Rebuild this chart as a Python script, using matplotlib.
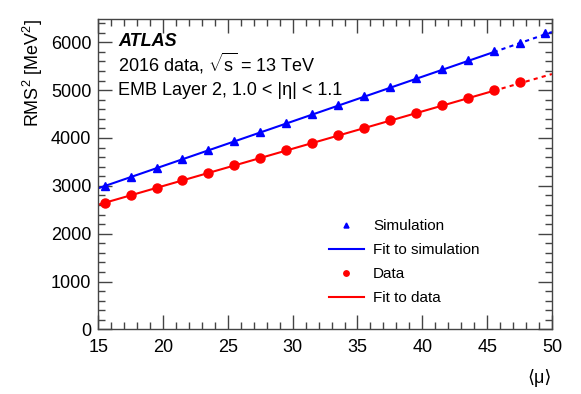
import matplotlib
matplotlib.use("Agg")
import numpy as np
import matplotlib.pyplot as plt
from matplotlib.ticker import MultipleLocator

plt.rcParams['font.family'] = ['Liberation Sans', 'DejaVu Sans']
plt.rcParams['mathtext.fontset'] = 'custom'
plt.rcParams['mathtext.rm'] = 'Liberation Sans'
plt.rcParams['mathtext.it'] = 'Liberation Sans:italic'

# <mu> bin centres
mu_sim = [15.5, 17.5, 19.5, 21.5, 23.5, 25.5, 27.5, 29.5, 31.5, 33.5,
          35.5, 37.5, 39.5, 41.5, 43.5, 45.5, 47.5, 49.5]
rms2_sim = [2995, 3185, 3375, 3565, 3755, 3940, 4125, 4315, 4500, 4690,
            4875, 5065, 5250, 5435, 5620, 5810, 5995, 6185]

mu_data = [15.5, 17.5, 19.5, 21.5, 23.5, 25.5, 27.5, 29.5, 31.5, 33.5,
           35.5, 37.5, 39.5, 41.5, 43.5, 45.5, 47.5]
rms2_data = [2645, 2800, 2960, 3115, 3275, 3430, 3585, 3745, 3900, 4060,
             4215, 4370, 4530, 4685, 4840, 4995, 5170]

# linear fits (intercept, slope), fit range and extrapolation range
fit_sim = (1549, 93.3)
fit_data = (1436, 78.0)
fit_range = [15.0, 45.5]
extrap_range = [45.5, 50.0]

blue = '#0000ff'
red = '#ff0000'

fig = plt.figure(figsize=(5.81, 3.94), dpi=100)
ax = fig.add_axes([0.169, 0.164, 0.781, 0.787])


def line(fit, xs):
    xs = np.array(xs)
    return xs, fit[0] + fit[1] * xs


x, y = line(fit_sim, fit_range)
ax.plot(x, y, color=blue, lw=1.5, label='Fit to simulation', zorder=2)
x, y = line(fit_sim, extrap_range)
ax.plot(x, y, color=blue, lw=1.5, ls=(0, (2, 2)), zorder=2)
x, y = line(fit_data, fit_range)
ax.plot(x, y, color=red, lw=1.5, label='Fit to data', zorder=2)
x, y = line(fit_data, extrap_range)
ax.plot(x, y, color=red, lw=1.5, ls=(0, (2, 2)), zorder=2)

ax.plot(mu_sim, rms2_sim, ls='none', marker='^', ms=6, color=blue,
        label='Simulation', zorder=3)
ax.plot(mu_data, rms2_data, ls='none', marker='o', ms=6.5, color=red,
        label='Data', zorder=3)

ax.set_xlim(15, 50)
ax.set_ylim(0, 6480)
ax.xaxis.set_major_locator(MultipleLocator(5))
ax.xaxis.set_minor_locator(MultipleLocator(1))
ax.yaxis.set_major_locator(MultipleLocator(1000))
ax.yaxis.set_minor_locator(MultipleLocator(200))
ax.tick_params(which='both', direction='in', top=True, right=True,
               color='#444444', labelsize=13)
ax.tick_params(which='major', length=10, width=1)
ax.tick_params(which='minor', length=5, width=1)
ax.tick_params(axis='x', pad=7)
ax.tick_params(axis='y', pad=5)
for s in ax.spines.values():
    s.set_color('#444444')
    s.set_linewidth(1)

ax.set_ylabel(r'RMS$^2$ [MeV$^2$]', fontsize=13, loc='top')
ax.set_xlabel('⟨μ⟩', fontsize=13, loc='right', labelpad=9)

ax.text(0.044, 0.927, 'ATLAS', transform=ax.transAxes, fontsize=13,
        fontweight='bold', fontstyle='italic', va='center')
ax.text(0.044, 0.859, r'2016 data, $\sqrt{\mathrm{s}}$ = 13 TeV',
        transform=ax.transAxes, fontsize=13, va='center')
ax.text(0.044, 0.769, 'EMB Layer 2, 1.0 < |η| < 1.1',
        transform=ax.transAxes, fontsize=13, va='center')

h, l = ax.get_legend_handles_labels()
order = [2, 0, 3, 1]
ax.legend([h[i] for i in order], [l[i] for i in order],
          loc='lower left', bbox_to_anchor=(0.478, 0.034), frameon=False,
          fontsize=11, handlelength=2.3, markerscale=0.6,
          labelspacing=0.65, handletextpad=0.6)

fig.savefig('out.png', dpi=100)
